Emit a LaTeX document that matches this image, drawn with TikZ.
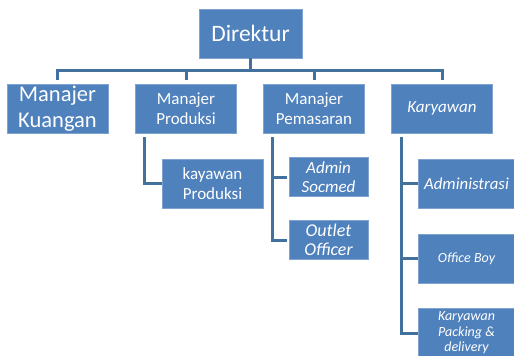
\documentclass[tikz,border=0pt]{standalone}
\usepackage{fontspec}
\setmainfont{Carlito}
\usepackage{tikz}
\usetikzlibrary{calc}
\usetikzlibrary{positioning}
\definecolor{boxblue}{HTML}{4F81BD}
\definecolor{edgeblue}{HTML}{7FA3D1}
\definecolor{linkblue}{HTML}{41719C}

\begin{document}
\begin{tikzpicture}[x=1pt, y=-1pt,
  box/.style={draw=edgeblue, line width=0.6pt, fill=boxblue, text=white, align=center, inner sep=1pt, minimum width=101pt, minimum height=49pt, font=\fontsize{17}{19.5}\selectfont},
  small/.style={minimum width=79pt, minimum height=39pt},
  link/.style={draw=linkblue, line width=3pt}]
\useasboundingbox (0,0) rectangle (514,356);
\node[box, minimum width=103pt, font=\fontsize{23.5}{26}\selectfont] (G0N0) at (250.5,33.5) {Direktur};
\node[box, font=\fontsize{22.5}{26}\selectfont] (G1N0) at (57.5,108.5) {Manajer\\Kuangan};
\node[box] (G1N1) at (186,108.5) {Manajer\\Produksi};
\node[box] (G1N2) at (314,108.5) {Manajer\\Pemasaran};
\node[box] (G1N3) at (442,108.5) {\itshape Karyawan};
\node[box] (G2N1) at (212.5,183.5) {kayawan\\Produksi};
\node[box, small, font=\itshape\fontsize{17}{19}\selectfont] (G2N2) at (328.5,177) {Admin\\Socmed};
\node[box, small, font=\itshape\fontsize{18}{19}\selectfont] (G2N3) at (328.5,240) {Outlet\\Officer};
\node[box, minimum width=97pt, font=\itshape\fontsize{16.8}{19}\selectfont] (G3N1) at (466.5,183.5) {Administrasi};
\node[box, minimum width=97pt, font=\itshape\fontsize{14}{15.5}\selectfont] (G3N2) at (466.5,258.5) {Office Boy};
\node[box, minimum width=97pt, font=\itshape\fontsize{14}{15.6}\selectfont] (G3N3) at (466.5,333) {Karyawan\\Packing \&\\delivery};
\draw[link, shorten >=4pt] (G0N0.south) -- ++(0,12.5) -| (G1N0.north);
\draw[link, shorten >=4pt] (G0N0.south) -- ++(0,12.5) -| (G1N1.north);
\draw[link, shorten >=4pt] (G0N0.south) -- ++(0,12.5) -| (G1N2.north);
\draw[link, shorten >=4pt] (G0N0.south) -- ++(0,12.5) -| (G1N3.north);
\draw[link, shorten <=4pt] ([xshift=-42pt]G1N1.south) |- (G2N1.west);
\draw[link, shorten <=4pt, shorten >=1.5pt] ([xshift=-42pt]G1N2.south) |- (G2N2.west);
\draw[link, shorten <=4pt, shorten >=1.5pt] ([xshift=-42pt]G1N2.south) |- (G2N3.west);
\draw[link, shorten <=4pt] ([xshift=-41pt]G1N3.south) |- (G3N1.west);
\draw[link, shorten <=4pt] ([xshift=-41pt]G1N3.south) |- (G3N2.west);
\draw[link, shorten <=4pt] ([xshift=-41pt]G1N3.south) |- (G3N3.west);
\end{tikzpicture}
\end{document}
